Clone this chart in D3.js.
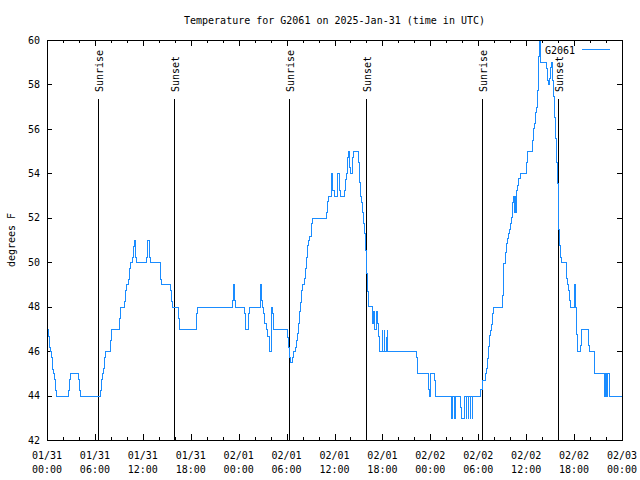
<!DOCTYPE html>
<html>
<head>
<meta charset="utf-8">
<script src="https://cdn.jsdelivr.net/npm/d3@7"></script>
<style>
  html, body { margin: 0; padding: 0; background: #fff; }
  svg { display: block; }
  text { font-family: "DejaVu Sans Mono", "Liberation Mono", monospace; font-size: 10px; fill: #000; }
</style>
</head>
<body>
<svg id="chart" width="640" height="480"></svg>
<script>
// ---- data (hours since 2025-01-31 00:00 UTC, temperature in F) ----
const readings = [
  [0,47],[0.16,46.7],[0.29,46.2],[0.41,46],[0.54,45.75],[0.66,45.2],[0.79,45],[0.91,44.75],[1.04,44.25],[1.16,44],
  [2.67,44.25],[2.79,44.75],[2.92,45],[3.92,44.75],[4.04,44.25],[4.17,44],
  [6.64,44.25],[6.76,44.75],[6.89,45],[7.01,45.25],[7.14,45.75],[7.26,46],[7.89,46.5],[8.01,47],
  [9.05,47.5],[9.18,48],[9.68,48.25],[9.8,48.75],[9.93,49],[10.1,49.25],[10.23,49.75],[10.39,50],[10.6,50.25],[10.8,50.75],[10.93,51],[11.08,50.25],[11.2,50],
  [12.4,50.25],[12.52,51],[12.77,50.25],[12.9,50],
  [14.15,49.25],[14.27,49],[15.44,48.75],[15.56,48.25],[15.69,48],
  [16.44,47.5],[16.57,47],[18.7,47.7],[18.82,48],
  [23.2,48.3],[23.33,49],[23.45,48.3],[23.58,48],
  [24.67,47.7],[24.79,47],[25.2,47.7],[25.33,48],
  [26.71,49],[26.83,48.3],[26.96,48],[27.08,47.7],[27.21,47.25],[27.39,47],[27.51,46.7],[27.76,46.25],[27.84,46],[28.01,48],[28.14,47.7],[28.34,47],
  [30.05,46.65],[30.18,46.2],[30.3,45.75],[30.43,45.5],[30.68,45.75],[30.8,46],[31.05,46.2],[31.18,46.5],[31.3,46.8],[31.43,47.25],[31.56,47.8],[31.68,48.2],[31.8,48.75],[31.93,49],[32.18,49.27],[32.31,49.73],[32.43,50.25],[32.56,50.77],[32.68,51],[32.81,51.2],[33.06,51.75],[33.18,52],
  [34.94,52.27],[35.06,52.75],[35.19,53],[35.52,54],[35.69,53.25],[35.94,53],[36.28,54],[36.56,53.25],[36.69,53],
  [37.19,53.25],[37.32,53.75],[37.44,54],[37.57,54.75],[37.69,55],[37.82,54.3],[37.94,54],[38.19,54.75],[38.32,55],
  [38.98,54.5],[39.1,53.6],[39.23,53],[39.36,52.7],[39.48,52.27],[39.61,51.75],[39.73,51.3],[39.86,50.55],[39.98,49.5],[40.11,48.7],[40.23,48.05],
  [40.7,47.25],[40.82,47.8],[40.95,47],[41.2,47.8],[41.32,47.25],[41.45,46.7],[41.57,46],
  [41.95,47],[42.0,46],[42.2,47],[42.25,46],[42.45,46.7],[42.5,46],[42.57,47],[42.62,46],
  [46.21,45.75],[46.33,45],[47.75,44.28],[47.87,44],[48,45],[48.5,44.7],[48.62,44],
  [50.63,43],[50.7,44],[51.0,43],[51.05,44],[51.75,43.5],[51.88,43],[52.25,44],
  [52.47,43],[52.52,44],[52.72,43],[52.77,44],[52.97,43],[53.02,44],[53.22,43],[53.27,44],
  [54.18,44.28],[54.43,44.7],[54.81,45],[54.93,45.22],[55.06,45.67],[55.18,46.23],[55.31,46.72],[55.43,46.95],[55.56,47.2],[55.68,47.7],[55.81,48],
  [56.97,48.52],[57.1,49.95],[57.35,50.47],[57.47,50.85],[57.6,51.07],[57.73,51.3],[57.85,51.5],[57.98,51.75],[58.1,52.05],[58.23,52.72],[58.35,53],[58.44,52.27],[58.52,53],[58.6,52.27],[58.73,53.25],[58.85,53.47],[58.98,53.78],[59.19,54],
  [59.94,54.5],[60.07,55],[60.69,55.5],[60.82,56.03],[60.94,56.25],[61.07,56.77],[61.2,57],[61.32,57.75],[61.45,59.3],[61.55,60],[61.7,59],
  [62.49,58.73],[62.61,58.2],[62.74,58],[62.86,58.3],[62.99,58.8],[63.11,59],[63.2,58.2],[63.32,57.5],[63.45,56.55],[63.57,55.6],[63.7,54.5],[63.82,53.55],[63.95,52.57],[64.03,51.5],[64.15,50.77],[64.28,50.25],[64.4,50],
  [65.03,49.27],[65.15,49],[65.28,48.75],[65.4,48.3],[65.53,48],[65.99,49],[66.11,48],[66.28,46.77],[66.4,46],[66.74,46.27],[66.83,47],[67.78,46.27],[67.91,46],[68.53,45],
  [69.75,44],[69.87,45],[70,44],[70.12,45],[70.33,44],[72,44]
];
const sunEvents = [["Sunrise",6.38],["Sunset",15.95],["Sunrise",30.3],["Sunset",39.97],["Sunrise",54.45],["Sunset",64.03]];
const xTickHours = [0,6,12,18,24,30,36,42,48,54,60,66,72];
const xTickDates = ["01/31","01/31","01/31","01/31","02/01","02/01","02/01","02/01","02/02","02/02","02/02","02/02","02/03"];
const xTickTimes = ["00:00","06:00","12:00","18:00","00:00","06:00","12:00","18:00","00:00","06:00","12:00","18:00","00:00"];
const xMinorHours = d3.range(0, 73, 2).filter(h => h % 6 !== 0);
const yTicks = [42,44,46,48,50,52,54,56,58,60];
const titleText = "Temperature for G2061 on 2025-Jan-31 (time in UTC)";
const yLabel = "degrees F";
const seriesName = "G2061";
const lineColor = "#1a8cff";

// ---- layout ----
const L = 47, R = 622, T = 40, B = 440;
const svg = d3.select("#chart");
const x = d3.scaleLinear().domain([0, 72]).range([L, R]);
const y = d3.scaleLinear().domain([42, 60]).range([B, T]);

function styleAxis(g) {
  g.select(".domain").remove();
  g.selectAll(".tick line").attr("stroke", "#000").attr("shape-rendering", "crispEdges");
}
svg.append("g").attr("transform", `translate(0,${B})`)
  .call(d3.axisBottom(x).tickValues(xTickHours).tickSize(-6).tickFormat(""))
  .call(styleAxis);
svg.append("g").attr("transform", `translate(0,${B})`)
  .call(d3.axisBottom(x).tickValues(xMinorHours).tickSize(-3).tickFormat(""))
  .call(styleAxis);
svg.append("g").attr("transform", `translate(0,${T})`)
  .call(d3.axisTop(x).tickValues(xTickHours).tickSize(-6).tickFormat(""))
  .call(styleAxis);
svg.append("g").attr("transform", `translate(0,${T})`)
  .call(d3.axisTop(x).tickValues(xMinorHours).tickSize(-3).tickFormat(""))
  .call(styleAxis);
const gy = svg.append("g").attr("transform", `translate(${L},0)`)
  .call(d3.axisLeft(y).tickValues(yTicks).tickSize(-5).tickPadding(7).tickFormat(d3.format("d")))
  .call(styleAxis);
gy.attr("font-family", null).attr("font-size", null);
svg.append("g").attr("transform", `translate(${R},0)`)
  .call(d3.axisRight(y).tickValues(yTicks).tickSize(-5).tickFormat(""))
  .call(styleAxis);

// x tick labels (two lines)
const xl = svg.append("g").selectAll("g").data(xTickHours).join("g")
  .attr("transform", d => `translate(${x(d)},0)`);
xl.append("text").attr("y", 458.5).attr("text-anchor", "middle").text((d, i) => xTickDates[i]);
xl.append("text").attr("y", 472.5).attr("text-anchor", "middle").text((d, i) => xTickTimes[i]);

// sunrise / sunset markers
const se = svg.append("g").selectAll("g").data(sunEvents).join("g");
se.append("line")
  .attr("x1", d => Math.round(x(d[1])) + 0.5).attr("x2", d => Math.round(x(d[1])) + 0.5)
  .attr("y1", T + 59).attr("y2", B)
  .attr("stroke", "#000").attr("shape-rendering", "crispEdges");
se.append("text")
  .attr("transform", d => `translate(${Math.round(x(d[1])) + 4.5},92) rotate(-90)`)
  .attr("text-anchor", "start")
  .text(d => d[0]);

// data line (snapped to pixel centres, like the original raster plot)
const line = d3.line()
  .x(d => Math.round(x(d[0])) + 0.5)
  .y(d => Math.round(y(Math.min(d[1], 60))) + 0.5)
  .curve(d3.curveStepAfter);
svg.append("path").datum(readings)
  .attr("d", line).attr("fill", "none").attr("stroke", lineColor).attr("stroke-width", 1)
  .attr("shape-rendering", "crispEdges");

// border
svg.append("rect").attr("x", L + 0.5).attr("y", T + 0.5).attr("width", R - L).attr("height", B - T)
  .attr("fill", "none").attr("stroke", "#000").attr("shape-rendering", "crispEdges");

// legend
svg.append("text").attr("x", 575).attr("y", 53.5).attr("text-anchor", "end").text(seriesName);
svg.append("line").attr("x1", 582).attr("x2", 610).attr("y1", 49.5).attr("y2", 49.5)
  .attr("stroke", lineColor).attr("shape-rendering", "crispEdges");

// title and y label
svg.append("text").attr("x", (L + R) / 2).attr("y", 23.5).attr("text-anchor", "middle").text(titleText);
svg.append("text").attr("transform", `translate(15,${(T + B) / 2}) rotate(-90)`)
  .attr("text-anchor", "middle").text(yLabel);
</script>
</body>
</html>
